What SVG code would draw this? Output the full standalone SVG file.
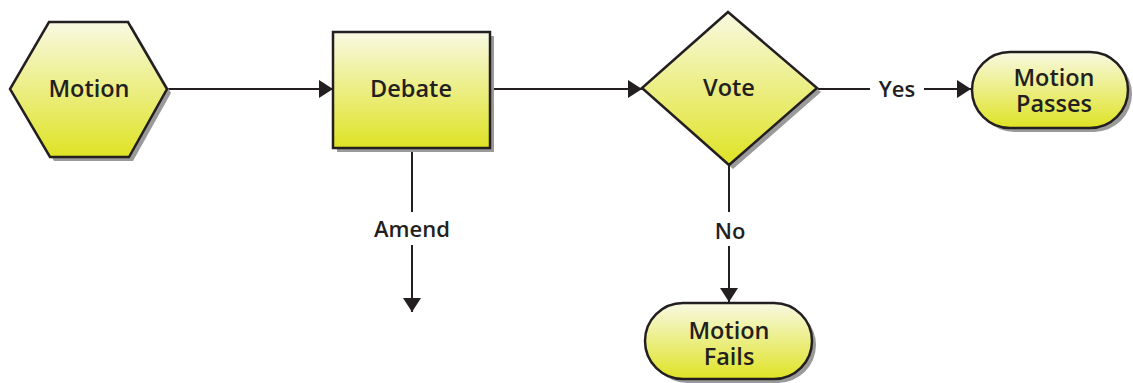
<svg xmlns="http://www.w3.org/2000/svg" width="1133" height="383" viewBox="0 0 1133 383">
<defs>
<linearGradient id="g" x1="0" y1="0" x2="0" y2="1">
<stop offset="0" stop-color="#f8f9e2"/>
<stop offset="1" stop-color="#dfe324"/>
</linearGradient>
<marker id="ah" viewBox="0 0 14 18" refX="14" refY="9" markerWidth="14" markerHeight="18" markerUnits="userSpaceOnUse" orient="auto">
<path d="M0,0 L14,9 L0,18 Z" fill="#231f20"/>
</marker>
<style>
.shape{fill:url(#g);stroke:#231f20;stroke-width:2.5}
.shadow{fill:#9a9a9a}
.t{font-family:"Open Sans","Noto Sans","DejaVu Sans",sans-serif;font-weight:600;font-size:23.5px;fill:#231f20;text-anchor:middle}
.lbl{font-family:"Open Sans","Noto Sans","DejaVu Sans",sans-serif;font-weight:600;font-size:22px;fill:#231f20;text-anchor:middle}
.c{stroke:#231f20;stroke-width:2;fill:none}
</style>
</defs>
<rect width="1133" height="383" fill="#ffffff"/>
<g id="connectors">
<line class="c" x1="167" y1="89" x2="333" y2="89" marker-end="url(#ah)"/>
<line class="c" x1="490" y1="89" x2="642" y2="89" marker-end="url(#ah)"/>
<line class="c" x1="817" y1="89" x2="870" y2="89"/>
<line class="c" x1="924" y1="89" x2="971" y2="89" marker-end="url(#ah)"/>
<line class="c" x1="729" y1="165" x2="729" y2="212"/>
<line class="c" x1="729" y1="246" x2="729" y2="302" marker-end="url(#ah)"/>
<line class="c" x1="412" y1="148" x2="412" y2="212"/>
<line class="c" x1="412" y1="245" x2="412" y2="312" marker-end="url(#ah)"/>
<text class="lbl" x="897" y="97">Yes</text>
<text class="lbl" x="730" y="239">No</text>
<text class="lbl" x="412" y="237">Amend</text>
</g>
<g id="motion">
<polygon class="shadow" points="53,26 132,26 171,93 133,161 54,161 14,93"/>
<polygon class="shape" points="49,22 128,22 167,89 129,157 50,157 10,89"/>
<text class="t" x="89" y="97">Motion</text>
</g>
<g id="debate">
<rect class="shadow" x="337" y="36" width="157" height="116"/>
<rect class="shape" x="333" y="32" width="157" height="116"/>
<text class="t" x="411" y="97">Debate</text>
</g>
<g id="vote">
<polygon class="shadow" points="732,16 821,92 733,169 646,92"/>
<polygon class="shape" points="728,12 817,88 729,165 642,88"/>
<text class="t" x="729" y="96">Vote</text>
</g>
<g id="passes">
<rect class="shadow" x="976" y="56" width="156" height="76" rx="38"/>
<rect class="shape" x="972" y="52" width="156" height="76" rx="38"/>
<text class="t"><tspan x="1054" y="86">Motion</tspan><tspan x="1054" y="112">Passes</tspan></text>
</g>
<g id="fails">
<rect class="shadow" x="649" y="307" width="167" height="76" rx="38"/>
<rect class="shape" x="645" y="303" width="167" height="76" rx="38"/>
<text class="t"><tspan x="729" y="339">Motion</tspan><tspan x="729" y="365">Fails</tspan></text>
</g>
</svg>
